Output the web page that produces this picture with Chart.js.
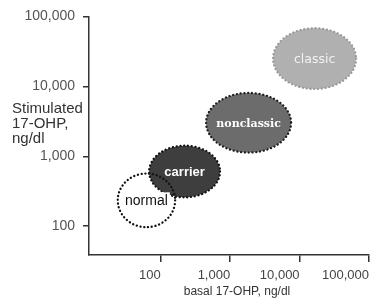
<!DOCTYPE html>
<html><head><meta charset="utf-8">
<script src="https://cdn.jsdelivr.net/npm/chart.js@4/dist/chart.umd.min.js"></script>
<style>html,body{margin:0;padding:0;background:#fff}#wrap{width:377px;height:308px;position:relative}</style>
</head><body><div id="wrap"><canvas id="c"></canvas></div>
<script>
const groups = ['classic', 'nonclassic', 'carrier', 'normal'];
const basalLow = [4150, 450, 68, 24];
const basalHigh = [65200, 7550, 715, 161];
const stimLow = [9180, 1130, 259, 97];
const stimHigh = [67700, 8050, 1419, 567];
const tickValues = [100, 1000, 10000, 100000];
const tickLabels = ['100', '1,000', '10,000', '100,000'];
const xTitle = 'basal 17-OHP, ng/dl';
const yTitle = ['Stimulated', '17-OHP,', 'ng/dl'];

const fills = ['#b0b0b0', '#6c6c6c', '#3e3e3e', null];
const borders = ['#9a9a9a', '#1e1e1e', '#141414', '#111111'];
const labelFonts = ['12.5px "DejaVu Sans"', 'bold 11px "DejaVu Serif"', 'bold 13px "Liberation Sans"', '14px "Liberation Sans"'];
const labelColors = ['#f2f2f2', '#ffffff', '#ffffff', '#111111'];

const centers = groups.map((g, i) => ({
  x: Math.sqrt(basalLow[i] * basalHigh[i]),
  y: Math.sqrt(stimLow[i] * stimHigh[i])
}));

const ellipsePlugin = {
  id: 'ellipses',
  afterDatasetsDraw(chart) {
    const ctx = chart.ctx, xs = chart.scales.x, ys = chart.scales.y;
    groups.forEach((g, i) => {
      const x1 = xs.getPixelForValue(basalLow[i]), x2 = xs.getPixelForValue(basalHigh[i]);
      const y1 = ys.getPixelForValue(stimLow[i]), y2 = ys.getPixelForValue(stimHigh[i]);
      const cx = (x1 + x2) / 2, cy = (y1 + y2) / 2;
      const rx = Math.abs(x2 - x1) / 2, ry = Math.abs(y2 - y1) / 2;
      ctx.save();
      ctx.beginPath();
      ctx.ellipse(cx, cy, rx, ry, 0, 0, Math.PI * 2);
      if (fills[i]) { ctx.fillStyle = fills[i]; ctx.fill(); }
      ctx.setLineDash([0.1, 3.7]);
      ctx.lineCap = 'round';
      ctx.lineWidth = 2.3;
      ctx.strokeStyle = borders[i];
      ctx.stroke();
      ctx.setLineDash([]);
      ctx.font = labelFonts[i];
      ctx.textAlign = 'center';
      ctx.textBaseline = 'middle';
      if (!fills[i]) {
        const w = ctx.measureText(g).width;
        ctx.fillStyle = '#fff';
        ctx.fillRect(cx - w / 2 - 2, cy - 8, w + 4, 16);
      }
      ctx.fillStyle = labelColors[i];
      ctx.fillText(g, cx, cy + 1);
      ctx.restore();
    });
  },
  afterDraw(chart) {
    const ctx = chart.ctx;
    ctx.save();
    ctx.fillStyle = '#333';
    ctx.font = '12px "Liberation Sans"';
    ctx.textAlign = 'center';
    ctx.textBaseline = 'middle';
    ctx.fillText(xTitle, 237, 292);
    ctx.font = '15px "Liberation Sans"';
    ctx.textAlign = 'left';
    ctx.textBaseline = 'alphabetic';
    yTitle.forEach((t, k) => ctx.fillText(t, 12, 113 + k * 15));
    ctx.restore();
  }
};

const setTicks = (scale) => { scale.ticks = tickValues.map(v => ({ value: v })); };
const fmt = (v) => { const k = tickValues.indexOf(v); return k >= 0 ? tickLabels[k] : ''; };

new Chart(document.getElementById('c'), {
  type: 'scatter',
  data: { datasets: [{ data: centers, pointRadius: 0, pointHoverRadius: 0 }] },
  options: {
    responsive: true, maintainAspectRatio: false, animation: false,
    layout: { padding: { top: 15, right: 8, left: 0, bottom: 0 } },
    plugins: { legend: { display: false }, tooltip: { enabled: false } },
    scales: {
      x: {
        type: 'logarithmic', min: 9.25, max: 100000,
        afterBuildTicks: setTicks,
        afterFit: (s) => { s.height = 53; },
        border: { display: true, color: '#333', width: 1.5 },
        grid: { display: true, drawOnChartArea: false, drawTicks: true, tickLength: 7, color: '#333', lineWidth: 1.5 },
        ticks: { callback: fmt, align: 'end', padding: 6, color: '#444', font: { family: 'Liberation Sans', size: 13 }, maxRotation: 0, autoSkip: false }
      },
      y: {
        type: 'logarithmic', min: 38.8, max: 100000,
        afterBuildTicks: setTicks,
        afterFit: (s) => { s.width = 89; },
        border: { display: true, color: '#333', width: 1.5 },
        grid: { display: true, drawOnChartArea: false, drawTicks: true, tickLength: 6, color: '#333', lineWidth: 1.5 },
        ticks: { callback: fmt, padding: 8, color: '#555', font: { family: 'Liberation Sans', size: 14 }, autoSkip: false }
      }
    }
  },
  plugins: [ellipsePlugin]
});
</script></body></html>
